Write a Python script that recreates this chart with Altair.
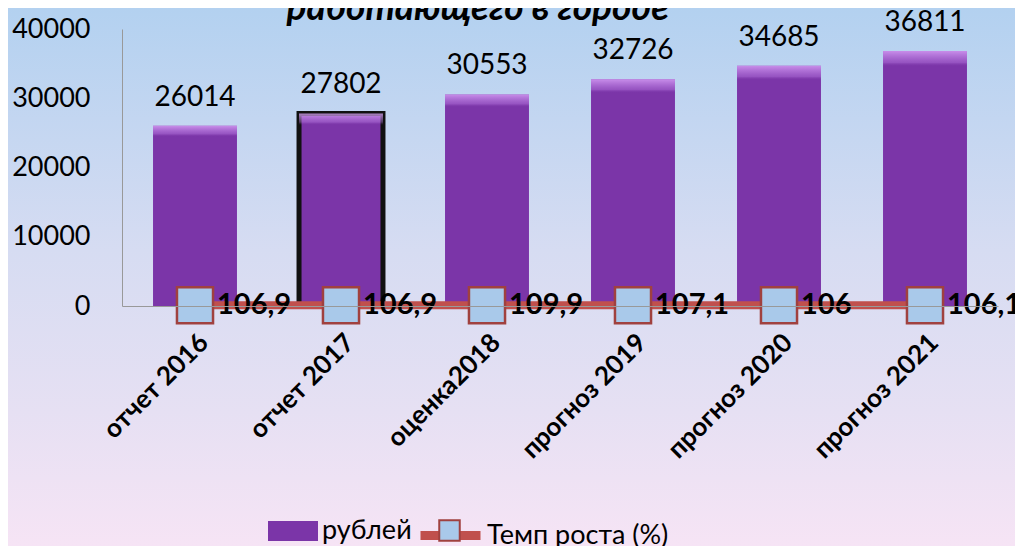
import altair as alt
import pandas as pd

categories = ["отчет 2016", "отчет 2017", "оценка2018", "прогноз 2019", "прогноз 2020", "прогноз 2021"]
rubles = [26014, 27802, 30553, 32726, 34685, 36811]
growth = [106.9, 106.9, 109.9, 107.1, 106, 106.1]
growth_labels = ["106,9", "106,9", "109,9", "107,1", "106", "106,1"]
y_ticks = [0, 10000, 20000, 30000, 40000]
series_bar = "рублей"
series_line = "Темп роста (%)"
title_text = "работающего в городе"

df = pd.DataFrame({
    "cat": categories,
    "rub": rubles,
    "growth": growth,
    "glabel": growth_labels,
    "s1": [series_bar] * len(categories),
    "s2": [series_line] * len(categories),
})

FONT = "Lato"
PURPLE = "#7B35A8"
RED = "#C0504D"
BLUE = "#A9C9EA"

W, H = 876, 277
PL, PT, PR, PB = 114, 21, 17, 240

xscale = alt.Scale(domain=categories, paddingInner=0.425, paddingOuter=0.2125)
yscale = alt.Scale(domain=[0, 40000], nice=False)

bg = alt.Chart(pd.DataFrame({"a": [0]})).mark_rect(
    color=alt.LinearGradient(
        gradient="linear", x1=0, x2=0, y1=0, y2=1,
        stops=[alt.GradientStop(offset=0, color="#B3D1F0"),
               alt.GradientStop(offset=0.45, color="#D6DCF2"),
               alt.GradientStop(offset=0.75, color="#E6E0F3"),
               alt.GradientStop(offset=1, color="#F6E4F5")]),
).encode(x=alt.value(-PL), x2=alt.value(W + PR), y=alt.value(-PT), y2=alt.value(H + PB))

title = alt.Chart(pd.DataFrame({"t": [title_text]})).mark_text(
    font=FONT, fontSize=37, fontWeight="bold", fontStyle="italic", color="black",
    align="center", baseline="alphabetic",
).encode(x=alt.value(356), y=alt.value(-9), text="t:N")

base = alt.Chart(df)

x_enc = alt.X("cat:N", scale=xscale, sort=categories, axis=alt.Axis(
    title=None, labelAngle=-45, labelFont=FONT, labelFontSize=26, labelFontWeight="bold",
    labelColor="black", ticks=False, domainColor="#999999", labelPadding=23, labelLimit=300,
    zindex=1))

bars = base.mark_bar(strokeWidth=5).encode(
    x=x_enc,
    y=alt.Y("rub:Q", scale=yscale, axis=alt.Axis(
        title=None, values=y_ticks, format="d", labelFont=FONT, labelFontSize=27,
        labelColor="black", ticks=False, grid=False, domainColor="#999999", labelPadding=32,
        zindex=1)),
    fill=alt.Fill("s1:N", scale=alt.Scale(domain=[series_bar], range=[PURPLE]),
                  legend=alt.Legend(title=None, orient="none", legendX=146, legendY=477,
                                    symbolType="M-1,-0.4H1V0.4H-1Z", symbolSize=2500,
                                    symbolStrokeWidth=0, labelFont=FONT, labelFontSize=27,
                                    labelColor="black", labelOffset=4, padding=0)),
    stroke=alt.condition(alt.datum.cat == categories[1], alt.value("#111111"), alt.value(None)),
)

bevel = base.mark_bar(color=alt.LinearGradient(
    gradient="linear", x1=0, x2=0, y1=0, y2=1,
    stops=[alt.GradientStop(offset=0, color="rgba(225,170,255,0.75)"),
           alt.GradientStop(offset=0.045, color="rgba(200,140,240,0.35)"),
           alt.GradientStop(offset=0.06, color="rgba(123,53,168,0)"),
           alt.GradientStop(offset=1, color="rgba(123,53,168,0)")])).encode(
    x=alt.X("cat:N", scale=xscale, sort=categories),
    y=alt.Y("rub:Q", scale=yscale),
)

bar_labels = base.mark_text(font=FONT, fontSize=28, color="black", baseline="bottom", dy=-14).encode(
    x=alt.X("cat:N", scale=xscale, sort=categories),
    y=alt.Y("rub:Q", scale=yscale),
    text="rub:Q",
)

line = base.mark_line(strokeWidth=8, strokeCap="round").encode(
    x=alt.X("cat:N", scale=xscale, sort=categories),
    y=alt.Y("growth:Q", scale=yscale),
    stroke=alt.Stroke("s2:N", scale=alt.Scale(domain=[series_line], range=[RED]),
                      legend=alt.Legend(title=None, orient="none", legendX=294, legendY=472,
                                        symbolType="M-1,0H1", symbolSize=3600, symbolStrokeWidth=9,
                                        labelFont=FONT, labelFontSize=27, labelColor="black",
                                        labelOffset=2, labelLimit=400, padding=0)),
)

points = base.mark_point(shape="square", filled=True, size=1300, stroke="#A0413F", strokeWidth=2.5, opacity=1).encode(
    x=alt.X("cat:N", scale=xscale, sort=categories),
    y=alt.Y("growth:Q", scale=yscale),
    fill=alt.Fill("s2:N", scale=alt.Scale(domain=[series_line], range=[BLUE]),
                  legend=alt.Legend(title=None, orient="none", legendX=314, legendY=488,
                                    symbolType="square", symbolSize=420, symbolStrokeColor="#A0413F",
                                    symbolStrokeWidth=2, symbolOpacity=1, labelFont=FONT, labelFontSize=27,
                                    labelOpacity=0, labelOffset=2, labelLimit=400, padding=0)),
)

point_labels = base.mark_text(font=FONT, fontSize=29, fontWeight="bold", color="black",
                              align="left", baseline="middle", dx=22).encode(
    x=alt.X("cat:N", scale=xscale, sort=categories),
    y=alt.Y("growth:Q", scale=yscale),
    text="glabel:N",
)

chart = alt.layer(bg, title, bars, bevel, bar_labels, line, points, point_labels).resolve_scale(
    fill="independent", stroke="independent"
).properties(
    width=W, height=H,
    autosize=alt.AutoSizeParams(type="none"),
    padding={"left": PL, "top": PT, "right": PR, "bottom": PB},
).configure(background="transparent").configure_view(stroke=None)

chart.save("out.html", embed_options={"renderer": "svg", "actions": False})
